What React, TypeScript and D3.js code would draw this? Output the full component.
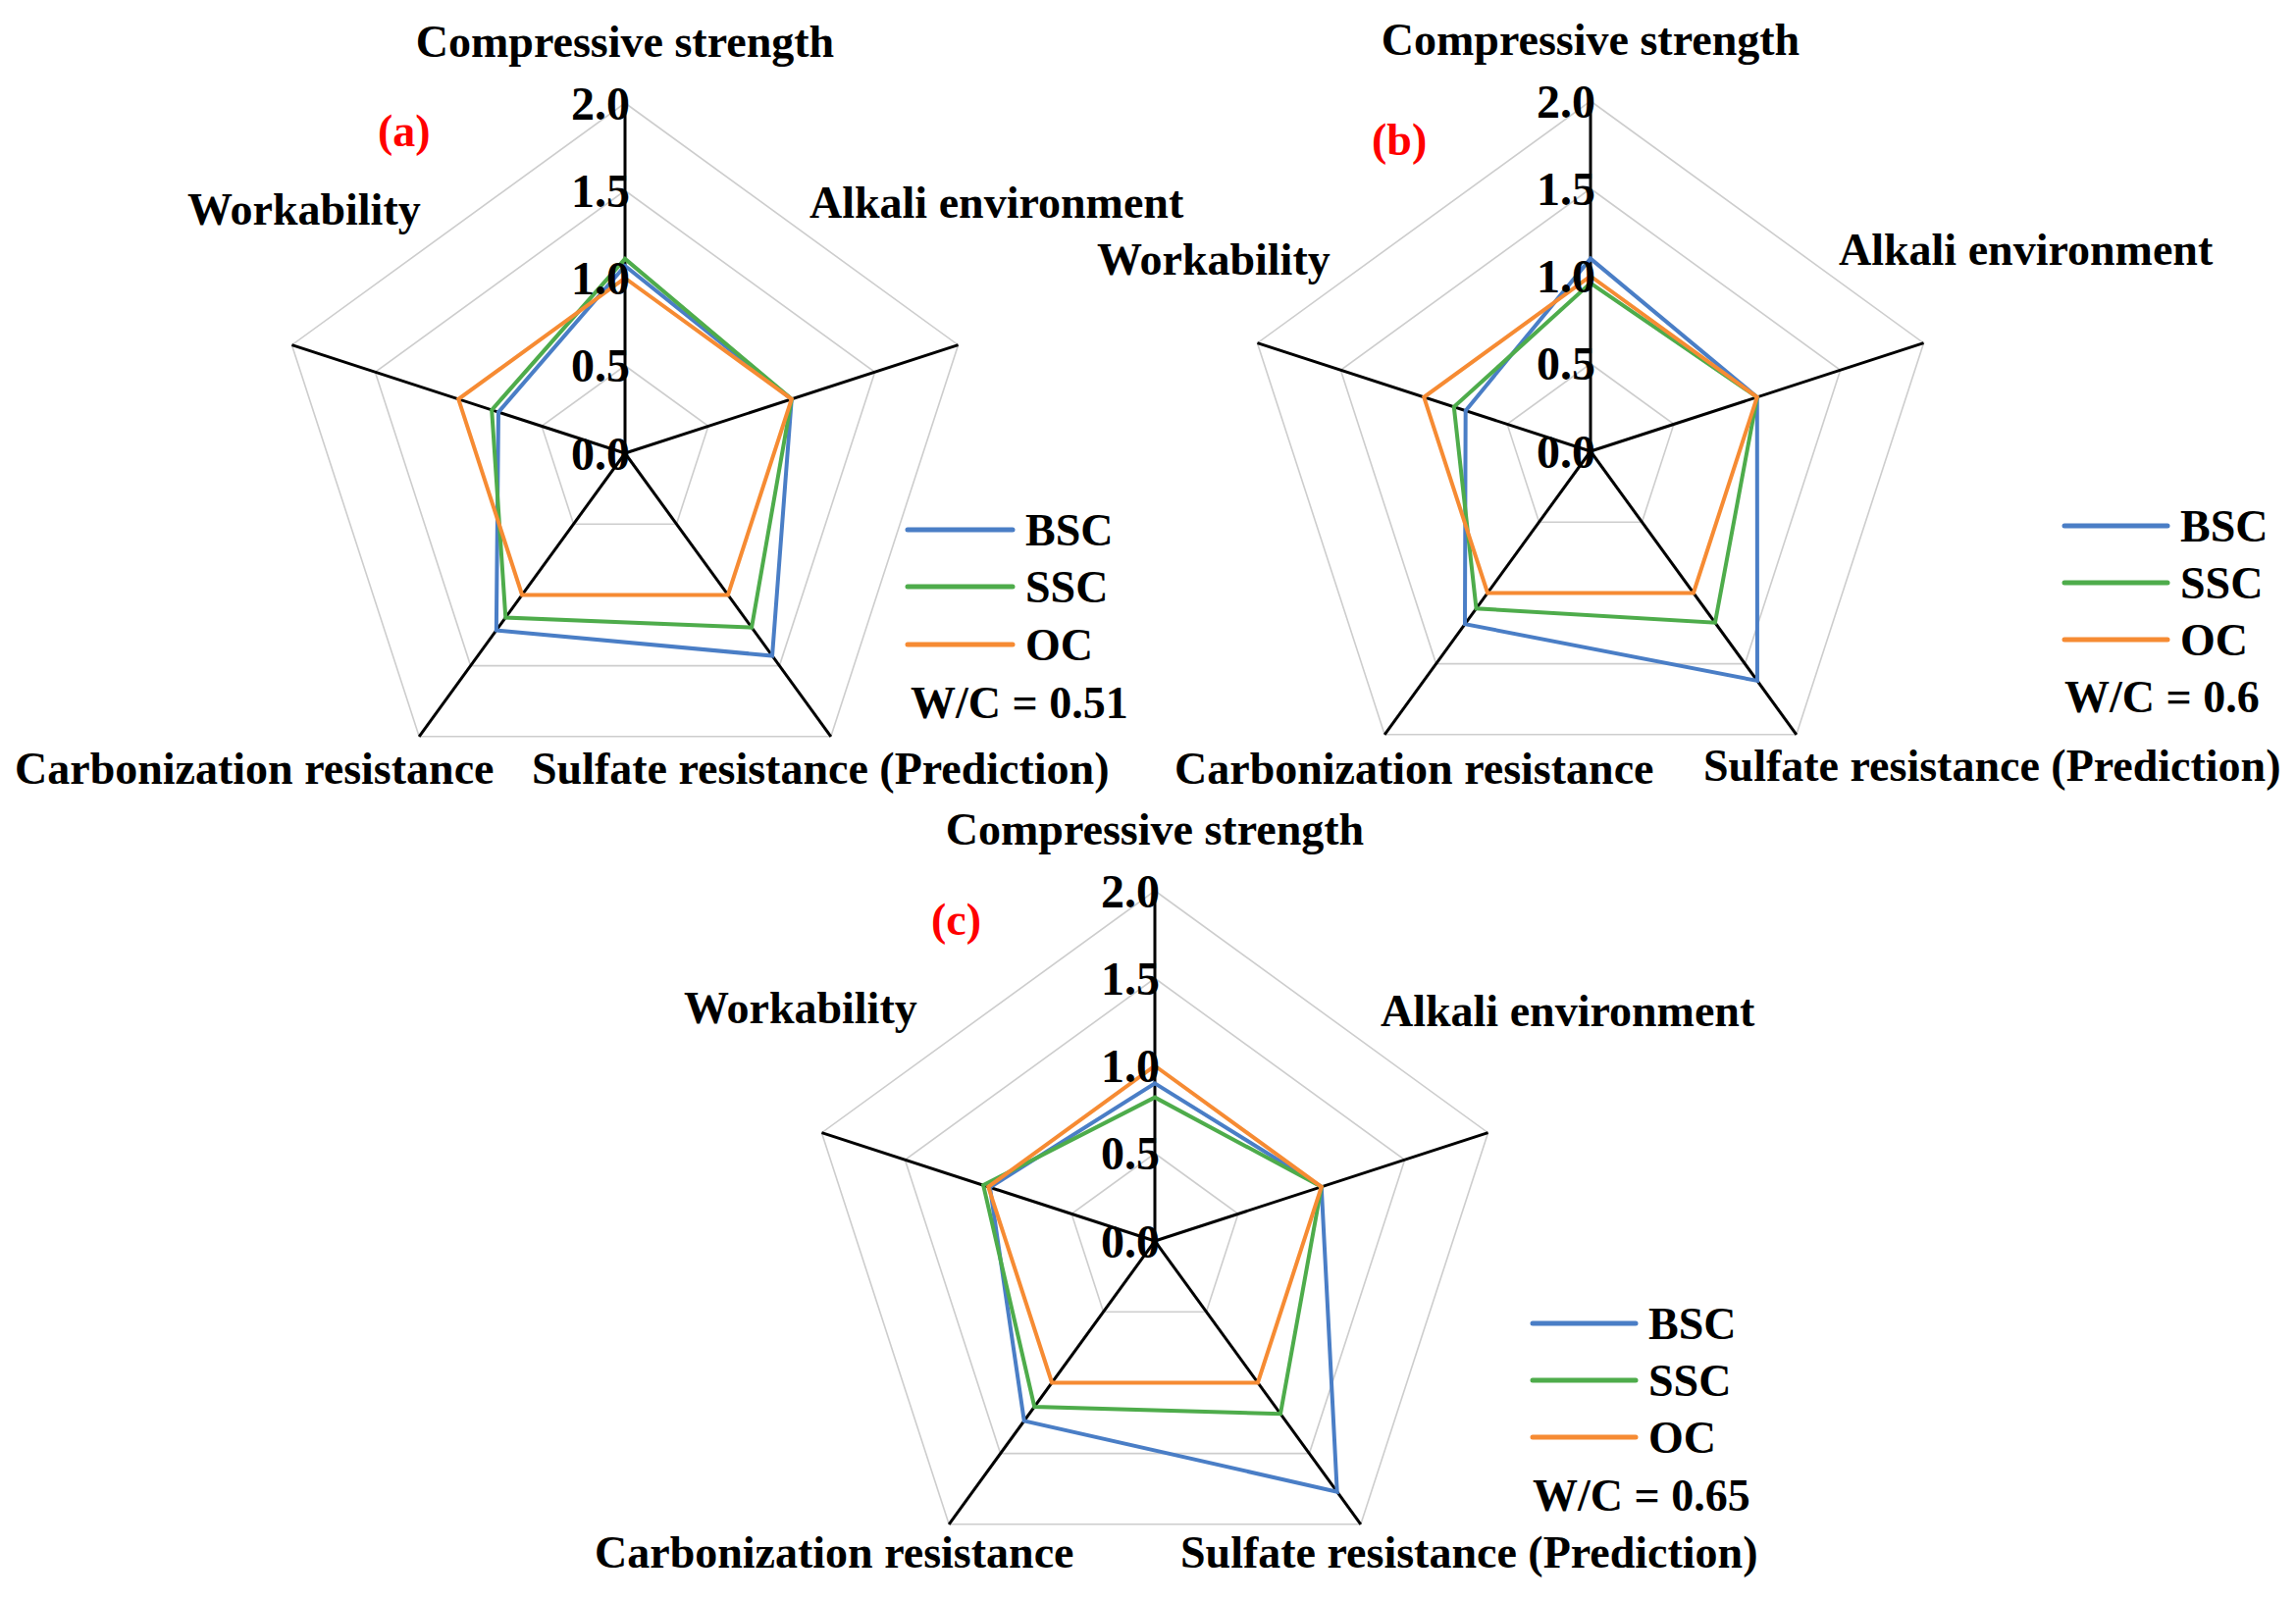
import React from "react";
import * as d3 from "d3";

// ---------- data ----------
const axesNames = [
  "Compressive strength",
  "Alkali environment",
  "Sulfate resistance (Prediction)",
  "Carbonization resistance",
  "Workability",
];
const seriesNames = ["BSC", "SSC", "OC"];
const tickValues = [0, 0.5, 1.0, 1.5, 2.0];
const tickLabels = ["0.0", "0.5", "1.0", "1.5", "2.0"];
const panelTags = ["(a)", "(b)", "(c)"];
const wcLabels = ["W/C = 0.51", "W/C = 0.6", "W/C = 0.65"];

// order: Compressive, Alkali, Sulfate, Carbonization, Workability
const bscA = [1.07, 1.0, 1.43, 1.25, 0.76];
const sscA = [1.11, 1.0, 1.23, 1.16, 0.8];
const ocA = [1.0, 1.0, 1.0, 1.0, 1.0];

const bscB = [1.1, 1.0, 1.62, 1.22, 0.75];
const sscB = [0.96, 1.0, 1.21, 1.11, 0.82];
const ocB = [1.0, 1.0, 1.0, 1.0, 1.0];

const bscC = [0.9, 1.0, 1.77, 1.27, 0.99];
const sscC = [0.82, 1.0, 1.22, 1.17, 1.03];
const ocC = [1.0, 1.0, 1.0, 1.0, 1.0];

const panelData = [
  [bscA, sscA, ocA],
  [bscB, sscB, ocB],
  [bscC, sscC, ocC],
];

// ---------- layout / style ----------
const W = 2340;
const H = 1632;
const R = 357;
const colors = ["#4A7EC6", "#4EAC4B", "#F68B33"];
const FONT = "'Liberation Serif', 'Times New Roman', serif";
const FS = 46;

type Pt = [number, number];
interface PanelLayout {
  cx: number;
  cy: number;
  labels: { x: number; y: number; anchor: string }[];
  tag: Pt;
  legendX: number;
  legendLineW: number;
  legendY: number[];
  wcX: number;
}

const layouts: PanelLayout[] = [
  {
    cx: 637,
    cy: 462,
    labels: [
      { x: 637, y: 42, anchor: "middle" },
      { x: 825, y: 206, anchor: "start" },
      { x: 542, y: 783, anchor: "start" },
      { x: 15, y: 783, anchor: "start" },
      { x: 191, y: 213, anchor: "start" },
    ],
    tag: [385, 133],
    legendX: 925,
    legendLineW: 107,
    legendY: [540, 598, 657, 716],
    wcX: 928,
  },
  {
    cx: 1621,
    cy: 460,
    labels: [
      { x: 1621, y: 40, anchor: "middle" },
      { x: 1874, y: 254, anchor: "start" },
      { x: 1736, y: 780, anchor: "start" },
      { x: 1197, y: 783, anchor: "start" },
      { x: 1118, y: 264, anchor: "start" },
    ],
    tag: [1398, 142],
    legendX: 2104,
    legendLineW: 105,
    legendY: [536, 594, 652, 710],
    wcX: 2104,
  },
  {
    cx: 1177,
    cy: 1265,
    labels: [
      { x: 1177, y: 845, anchor: "middle" },
      { x: 1407, y: 1030, anchor: "start" },
      { x: 1203, y: 1582, anchor: "start" },
      { x: 606, y: 1582, anchor: "start" },
      { x: 697, y: 1027, anchor: "start" },
    ],
    tag: [949, 937],
    legendX: 1562,
    legendLineW: 105,
    legendY: [1349, 1407, 1465, 1524],
    wcX: 1562,
  },
];

const rScale = d3.scaleLinear().domain([0, 2]).range([0, R]);
const angleOf = (i: number) => (i * 2 * Math.PI) / axesNames.length;

const radial = d3
  .lineRadial<number>()
  .angle((_d, i) => angleOf(i))
  .radius((d) => rScale(d))
  .curve(d3.curveLinearClosed);

function Panel({ idx }: { idx: number }) {
  const L = layouts[idx];
  const data = panelData[idx];
  return (
    <g>
      <g transform={`translate(${L.cx},${L.cy})`}>
        {tickValues
          .filter((t) => t > 0)
          .map((t) => (
            <path
              key={"g" + t}
              d={radial(axesNames.map(() => t)) || ""}
              fill="none"
              stroke="#CDCDCD"
              strokeWidth={1.6}
            />
          ))}
        {axesNames.map((_, i) => {
          const a = angleOf(i);
          const r = rScale(2);
          return (
            <line
              key={"ax" + i}
              x1={0}
              y1={0}
              x2={r * Math.sin(a)}
              y2={-r * Math.cos(a)}
              stroke="#000"
              strokeWidth={3}
            />
          );
        })}
        {data.map((vals, s) => (
          <path
            key={"s" + s}
            d={radial(vals) || ""}
            fill="none"
            stroke={colors[s]}
            strokeWidth={4}
            strokeLinejoin="miter"
          />
        ))}
        {tickValues.map((t, i) => (
          <text
            key={"t" + i}
            x={5}
            y={-rScale(t)}
            textAnchor="end"
            dominantBaseline="central"
            fontFamily={FONT}
            fontWeight="bold"
            fontSize={48}
            fill="#000"
          >
            {tickLabels[i]}
          </text>
        ))}
      </g>
      {axesNames.map((name, i) => (
        <text
          key={"l" + i}
          x={L.labels[i].x}
          y={L.labels[i].y}
          textAnchor={L.labels[i].anchor as any}
          dominantBaseline="central"
          fontFamily={FONT}
          fontWeight="bold"
          fontSize={FS}
          fill="#000"
        >
          {name}
        </text>
      ))}
      <text
        x={L.tag[0]}
        y={L.tag[1]}
        dominantBaseline="central"
        fontFamily={FONT}
        fontWeight="bold"
        fontSize={FS}
        fill="#FF0000"
      >
        {panelTags[idx]}
      </text>
      {seriesNames.map((s, k) => (
        <g key={"lg" + k}>
          <line
            x1={L.legendX}
            x2={L.legendX + L.legendLineW}
            y1={L.legendY[k]}
            y2={L.legendY[k]}
            stroke={colors[k]}
            strokeWidth={5}
            strokeLinecap="round"
          />
          <text
            x={L.legendX + L.legendLineW + 13}
            y={L.legendY[k]}
            dominantBaseline="central"
            fontFamily={FONT}
            fontWeight="bold"
            fontSize={FS}
            fill="#000"
          >
            {s}
          </text>
        </g>
      ))}
      <text
        x={L.wcX}
        y={L.legendY[3]}
        dominantBaseline="central"
        fontFamily={FONT}
        fontWeight="bold"
        fontSize={FS}
        fill="#000"
      >
        {wcLabels[idx]}
      </text>
    </g>
  );
}

export default function App() {
  return (
    <svg
      width={W}
      height={H}
      viewBox={`0 0 ${W} ${H}`}
      style={{ position: "absolute", left: 0, top: 0, background: "#fff" }}
    >
      <rect x={0} y={0} width={W} height={H} fill="#fff" />
      {layouts.map((_, i) => (
        <Panel key={i} idx={i} />
      ))}
    </svg>
  );
}
